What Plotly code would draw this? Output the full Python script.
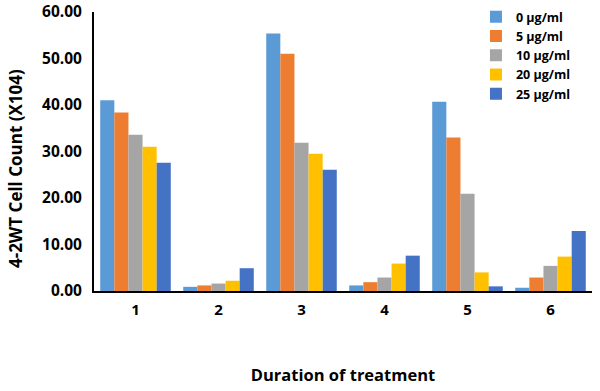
import plotly.graph_objects as go

categories = ["1", "2", "3", "4", "5", "6"]
series_names = ["0 μg/ml", "5 μg/ml", "10 μg/ml", "20 μg/ml", "25 μg/ml"]
s0 = [41.0, 0.9, 55.4, 1.2, 40.7, 0.7]
s5 = [38.4, 1.2, 51.0, 1.9, 33.0, 2.9]
s10 = [33.6, 1.6, 31.9, 2.9, 20.9, 5.4]
s20 = [31.0, 2.2, 29.5, 5.9, 4.0, 7.4]
s25 = [27.6, 4.9, 26.1, 7.6, 1.0, 12.9]
colors = ["#5B9BD5", "#ED7D31", "#A5A5A5", "#FFC000", "#4472C4"]
tick_vals = [0, 10, 20, 30, 40, 50, 60]
tick_text = ["0.00", "10.00", "20.00", "30.00", "40.00", "50.00", "60.00"]
x_title = "Duration of treatment"
y_title = "4-2WT Cell Count (X104)"

FONT = "Open Sans"
fig = go.Figure()
for name, vals, c in zip(series_names, [s0, s5, s10, s20, s25], colors):
    fig.add_trace(go.Bar(x=categories, y=vals, name=name, marker_color=c,
                         marker_line_width=0))

fig.update_layout(
    width=600, height=391,
    barmode="group", bargap=0.15, bargroupgap=0,
    plot_bgcolor="white", paper_bgcolor="white",
    margin=dict(l=94, r=8, t=12, b=100, autoexpand=False),
    font=dict(family=FONT, color="black"),
    legend=dict(x=0.767, y=1.035, xanchor="left", yanchor="top",
                font=dict(family=FONT, size=12.5, color="black", weight="bold"),
                bgcolor="rgba(0,0,0,0)", tracegroupgap=0, itemwidth=30),
    annotations=[dict(text=y_title, xref="paper", yref="paper", x=-0.159, y=0.44,
                      xanchor="center", yanchor="middle", textangle=-90,
                      showarrow=False,
                      font=dict(family=FONT, size=17, weight="bold", color="black"))],
)
fig.update_yaxes(range=[0, 60], tickvals=tick_vals, ticktext=tick_text,
                 showgrid=False, zeroline=False, showline=True, linecolor="black",
                 linewidth=2, ticks="", ticklabelstandoff=7, automargin=False,
                 tickfont=dict(family=FONT, size=15.5, weight="bold"))
fig.update_xaxes(showgrid=False, showline=True, linecolor="black", linewidth=2,
                 ticks="", automargin=False, ticklabelstandoff=4,
                 tickfont=dict(family=FONT, size=15, weight="bold"),
                 title=dict(text=x_title, standoff=51,
                            font=dict(family=FONT, size=16.5, weight="bold")))
fig.write_html("out.html", config={"displayModeBar": False},
               post_script="document.body.style.margin='0';")
